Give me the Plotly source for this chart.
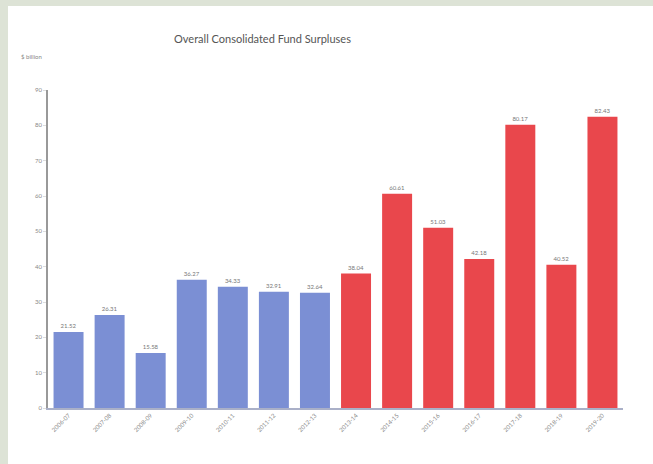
import plotly.graph_objects as go

categories = ["2006-07", "2007-08", "2008-09", "2009-10", "2010-11", "2011-12", "2012-13",
              "2013-14", "2014-15", "2015-16", "2016-17", "2017-18", "2018-19", "2019-20"]
surplus_early = [21.52, 26.31, 15.58, 36.27, 34.33, 32.91, 32.64]
surplus_late = [38.04, 60.61, 51.03, 42.18, 80.17, 40.52, 82.43]
y_ticks = [0, 10, 20, 30, 40, 50, 60, 70, 80, 90]

BLUE = "#7b8fd4"
RED = "#e9474c"

values = surplus_early + surplus_late
colors = [BLUE] * len(surplus_early) + [RED] * len(surplus_late)

fig = go.Figure()
fig.add_trace(go.Bar(
    x=categories, y=values,
    marker=dict(color=colors, line=dict(width=0)),
    text=[f"{v:.2f}" for v in values],
    textposition="outside",
    textfont=dict(size=6, color="#777777"),
    cliponaxis=False,
    hoverinfo="x+y",
))

# background frame strips (left and top)
frame = "#dde3d6"
fig.add_shape(type="rect", xref="paper", yref="paper", x0=-0.2, x1=-0.0696, y0=-0.5, y1=1.5,
              fillcolor=frame, line=dict(width=0), layer="below")
fig.add_shape(type="rect", xref="paper", yref="paper", x0=-0.2, x1=1.3, y0=1.264, y1=1.5,
              fillcolor=frame, line=dict(width=0), layer="below")

fig.add_annotation(text="$ billion", xref="paper", yref="paper", x=-0.028, y=1.105,
                   xanchor="center", yanchor="middle", showarrow=False,
                   font=dict(size=6, color="#888888"))

fig.update_layout(
    width=653, height=464,
    margin=dict(l=48, r=30, t=90, b=56),
    paper_bgcolor="white", plot_bgcolor="white",
    font=dict(family="Lato, Open Sans, sans-serif", color="#777777"),
    title=dict(text="Overall Consolidated Fund Surpluses", x=0.402, xanchor="center",
               y=1 - 39 / 464, yanchor="middle",
               font=dict(size=11, color="#555555")),
    bargap=0.27,
    showlegend=False,
    xaxis=dict(type="category", automargin=False, showgrid=False, showline=True,
               linecolor="#aab0c8", linewidth=1.5,
               ticks="", tickangle=-45, tickfont=dict(size=6, color="#888888")),
    yaxis=dict(range=[0, 90], tickvals=y_ticks, automargin=False, showgrid=False, zeroline=False,
               showline=True, linecolor="#999999", linewidth=1.5,
               ticks="outside", ticklen=3, tickcolor="#dddddd",
               tickfont=dict(size=6, color="#888888")),
)

fig.write_html("out.html", config={"displayModeBar": False},
               post_script="document.body.style.margin='0';")
